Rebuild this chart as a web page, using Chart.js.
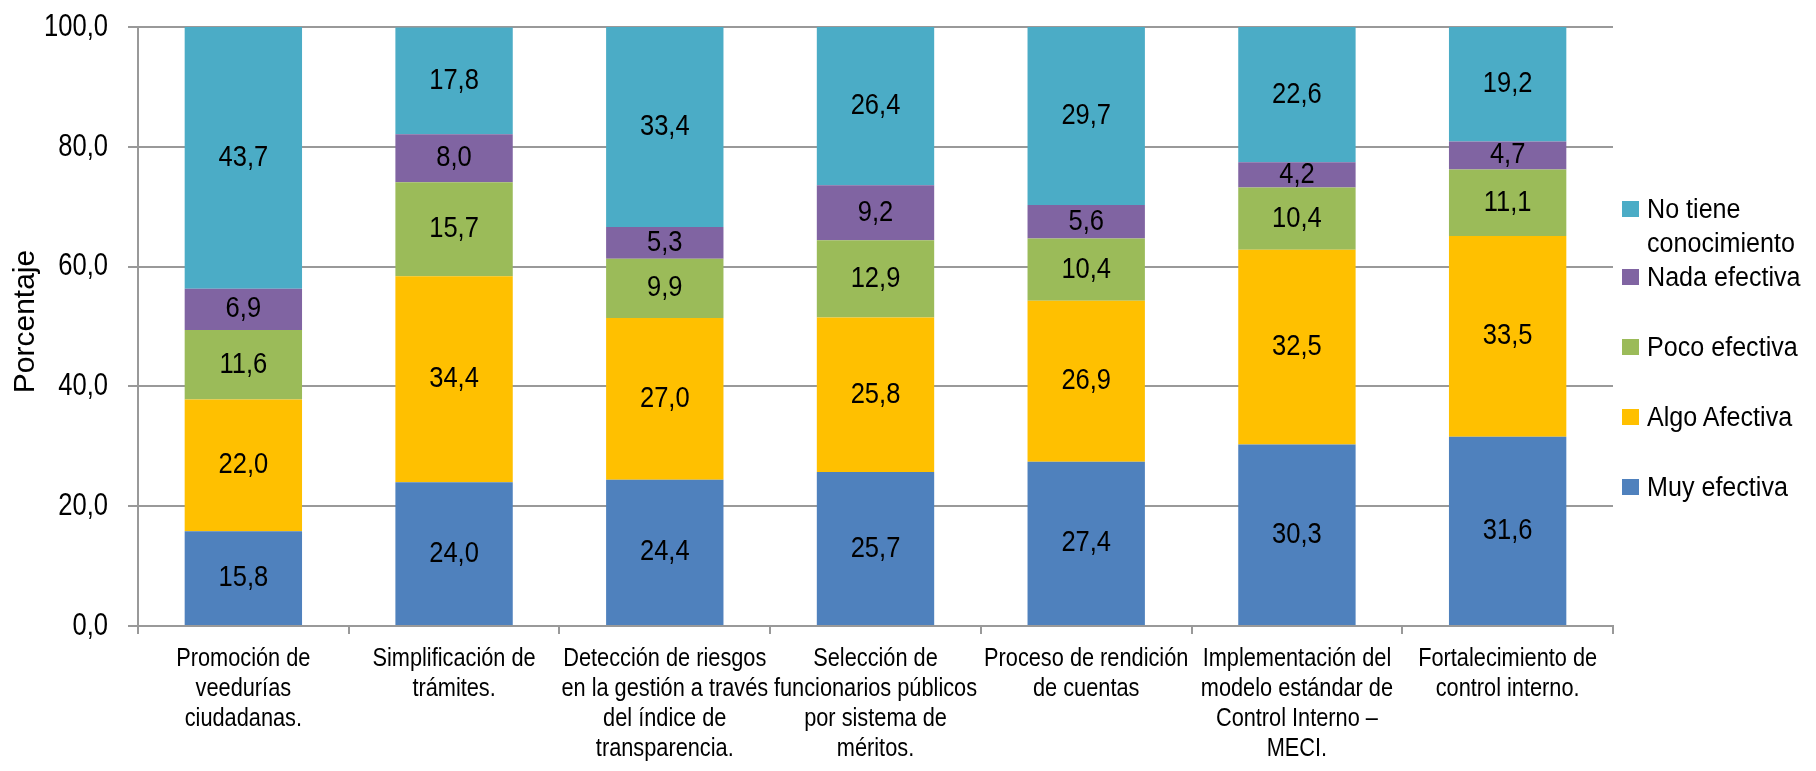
<!DOCTYPE html>
<html>
<head>
<meta charset="utf-8">
<script src="https://cdn.jsdelivr.net/npm/chart.js@4"></script>
<style>
  body { margin: 0; background: #fff; }
  #wrap { position: relative; width: 1816px; height: 771px; }
  #legend { position: absolute; left: 1622px; top: 0; font-family: "Liberation Sans", Arial, sans-serif; font-size: 27px; color: #000; }
  .item { position: absolute; left: 0; white-space: nowrap; line-height: 34px; }
  .box { position: absolute; left: 0; top: 9px; width: 17px; height: 16px; }
  .txt { position: absolute; left: 25px; top: 0; transform: scaleX(0.93); transform-origin: 0 0; }
</style>
</head>
<body>
<div id="wrap">
  <canvas id="chart" width="1816" height="771"></canvas>
  <div id="legend"></div>
</div>
<script>
const categories = [
  ['Promoción de', 'veedurías', 'ciudadanas.'],
  ['Simplificación de', 'trámites.'],
  ['Detección de riesgos', 'en la gestión a través', 'del índice de', 'transparencia.'],
  ['Selección de', 'funcionarios públicos', 'por sistema de', 'méritos.'],
  ['Proceso de rendición', 'de cuentas'],
  ['Implementación del', 'modelo estándar de', 'Control Interno –', 'MECI.'],
  ['Fortalecimiento de', 'control interno.']
];

const muyEfectiva  = [15.8, 24.0, 24.4, 25.7, 27.4, 30.3, 31.6];
const algoAfectiva = [22.0, 34.4, 27.0, 25.8, 26.9, 32.5, 33.5];
const pocoEfectiva = [11.6, 15.7, 9.9, 12.9, 10.4, 10.4, 11.1];
const nadaEfectiva = [6.9, 8.0, 5.3, 9.2, 5.6, 4.2, 4.7];
const noTiene      = [43.7, 17.8, 33.4, 26.4, 29.7, 22.6, 19.2];

const yTicks = [0, 20, 40, 60, 80, 100];
const yTitle = 'Porcentaje';

const FONT = '"Liberation Sans", Arial, sans-serif';

const datasets = [
  { label: 'Muy efectiva', data: muyEfectiva, backgroundColor: '#4F81BD' },
  { label: 'Algo Afectiva', data: algoAfectiva, backgroundColor: '#FFC000' },
  { label: 'Poco efectiva', data: pocoEfectiva, backgroundColor: '#9BBB59' },
  { label: 'Nada efectiva', data: nadaEfectiva, backgroundColor: '#8064A2' },
  { label: ['No tiene', 'conocimiento'], data: noTiene, backgroundColor: '#4BACC6' }
];

const fmt = v => v.toFixed(1).replace('.', ',');

// the original uses a narrow face, so squeeze Liberation Sans sideways
function narrowText(ctx, text, x, y, sx, align) {
  ctx.save();
  ctx.translate(x, y);
  ctx.scale(sx, 1);
  ctx.textAlign = align;
  ctx.fillText(text, 0, 0);
  ctx.restore();
}

const textLayer = {
  id: 'textLayer',
  afterDraw(chart) {
    const ctx = chart.ctx;
    const xs = chart.scales.x, ys = chart.scales.y, area = chart.chartArea;
    ctx.save();
    ctx.fillStyle = '#000';
    ctx.textBaseline = 'middle';

    // values inside the segments
    ctx.font = '29px ' + FONT;
    chart.data.datasets.forEach((ds, i) => {
      chart.getDatasetMeta(i).data.forEach((bar, j) => {
        const p = bar.getProps(['x', 'y', 'base'], true);
        narrowText(ctx, fmt(ds.data[j]), p.x, (p.y + p.base) / 2, 0.88, 'center');
      });
    });

    // y tick labels
    ctx.font = '32px ' + FONT;
    yTicks.forEach(v => narrowText(ctx, fmt(v), area.left - 30, ys.getPixelForValue(v), 0.8, 'right'));

    // category labels
    ctx.font = '25px ' + FONT;
    chart.data.labels.forEach((lines, i) => {
      const x = xs.getPixelForValue(i);
      lines.forEach((t, k) => narrowText(ctx, t, x, xs.top + 33 + k * 30, 0.87, 'center'));
    });

    // axis title
    ctx.font = '30px ' + FONT;
    ctx.translate(26, (area.top + area.bottom) / 2 - 5);
    ctx.rotate(-Math.PI / 2);
    ctx.textAlign = 'center';
    ctx.fillText(yTitle, 0, 0);
    ctx.restore();
  }
};

new Chart(document.getElementById('chart'), {
  type: 'bar',
  data: { labels: categories, datasets: datasets },
  options: {
    responsive: false,
    animation: false,
    layout: { padding: { top: 27, right: 203, left: 0, bottom: 0 } },
    plugins: { legend: { display: false }, tooltip: { enabled: false } },
    datasets: { bar: { categoryPercentage: 1, barPercentage: 0.557 } },
    scales: {
      x: {
        stacked: true,
        grid: { offset: true, drawOnChartArea: false, color: '#999', tickLength: 8, lineWidth: 2 },
        border: { color: '#999', width: 2 },
        ticks: { display: false },
        afterFit: axis => { axis.height = 145; }
      },
      y: {
        stacked: true,
        min: 0,
        max: 100,
        afterBuildTicks: axis => { axis.ticks = yTicks.map(v => ({ value: v })); },
        grid: { color: '#999', lineWidth: 2, tickLength: 10 },
        border: { color: '#999', width: 2 },
        ticks: { display: false },
        afterFit: axis => { axis.width = 138; }
      }
    }
  },
  plugins: [textLayer]
});

// legend, stacked top-down like the bars
const legendRows = [209, 277, 347, 417, 487];
const legend = document.getElementById('legend');
datasets.slice().reverse().forEach((ds, k) => {
  const item = document.createElement('div');
  item.className = 'item';
  item.style.top = (legendRows[k] - 17) + 'px';
  const box = document.createElement('div');
  box.className = 'box';
  box.style.background = ds.backgroundColor;
  const txt = document.createElement('div');
  txt.className = 'txt';
  txt.innerHTML = [].concat(ds.label).join('<br>');
  item.appendChild(box);
  item.appendChild(txt);
  legend.appendChild(item);
});
</script>
</body>
</html>
